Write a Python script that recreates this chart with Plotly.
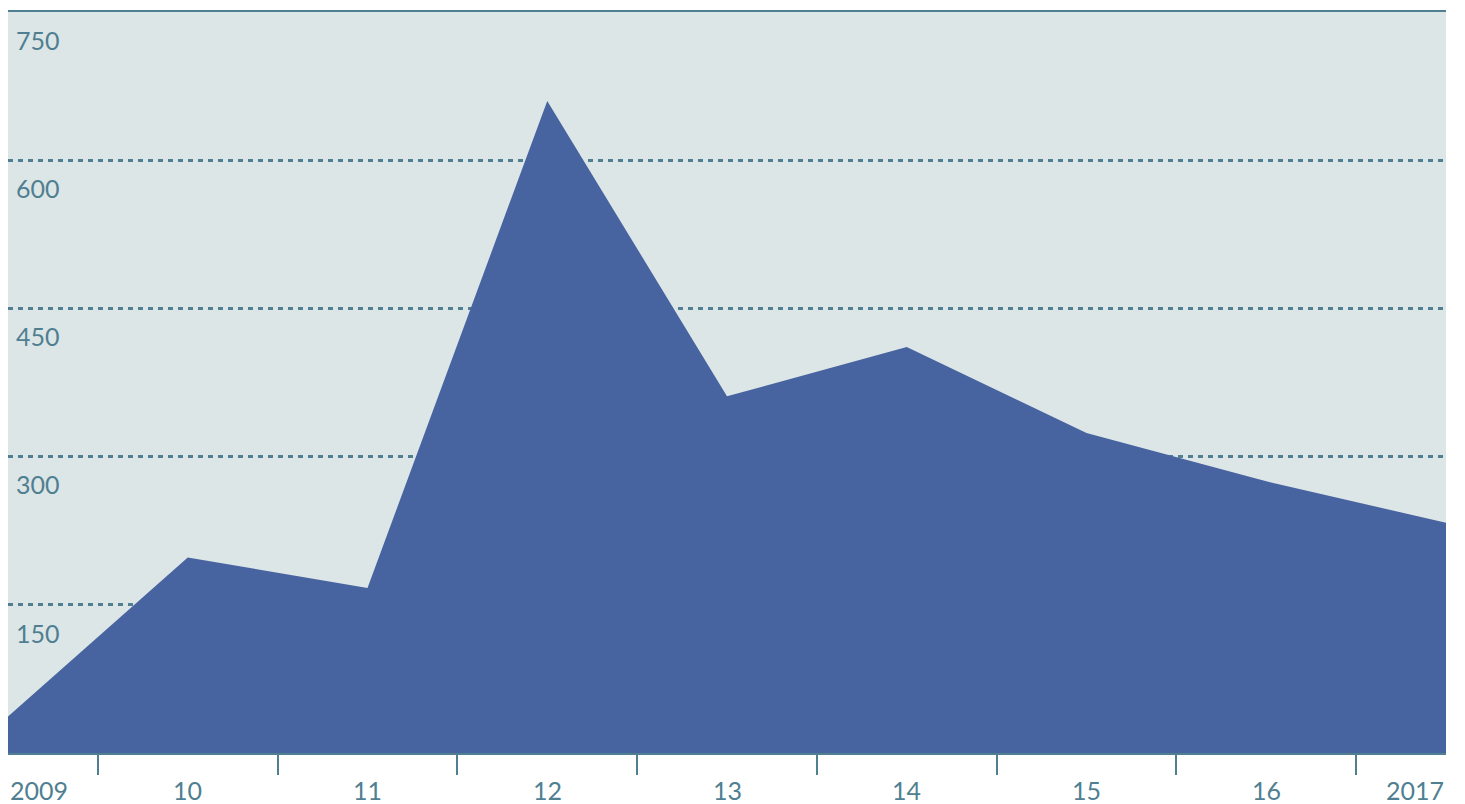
import plotly.graph_objects as go

years = [2009, 2010, 2011, 2012, 2013, 2014, 2015, 2016, 2017]
values = [37, 198, 167, 660, 361, 411, 324, 275, 233]
year_labels = ["2009", "10", "11", "12", "13", "14", "15", "16", "2017"]
y_ticks = [150, 300, 450, 600, 750]

AREA = "#4864a0"
BG = "#dce6e7"
INK = "#4f7f91"
FONT = "Lato"
FS = 25

fig = go.Figure()
fig.add_trace(go.Scatter(
    x=years, y=values, mode="lines", fill="tozeroy",
    fillcolor=AREA, line=dict(width=0, color=AREA),
    hoverinfo="skip", showlegend=False,
))

fig.update_layout(
    width=1457, height=796,
    margin=dict(l=0, r=19, t=4, b=51),
    paper_bgcolor="white", plot_bgcolor=BG,
    font=dict(family=FONT, size=FS, color=INK),
    xaxis=dict(
        range=[years[0], years[-1]],
        tickvals=[y + 0.5 for y in years[:-1]],
        showticklabels=False,
        ticks="outside", ticklen=20, tickwidth=2, tickcolor=INK,
        showgrid=False, zeroline=False,
        showline=True, linecolor=INK, linewidth=2, mirror=True,
    ),
    yaxis=dict(
        range=[0, 750],
        tickvals=y_ticks,
        ticktext=[str(v) for v in y_ticks],
        ticklabelposition="inside",
        ticklabelshift=29,
        ticklabelstandoff=5,
        ticks="",
        showgrid=True, gridcolor=INK, gridwidth=2.5, griddash="5px,5px",
        zeroline=False, showline=False,
        tickfont=dict(family=FONT, size=FS, color=INK),
    ),
)

for i, (yr, lab) in enumerate(zip(years, year_labels)):
    anchor = "left" if i == 0 else ("right" if i == len(years) - 1 else "center")
    fig.add_annotation(
        x=yr, y=0, xref="x", yref="paper",
        text=lab, showarrow=False,
        xanchor=anchor, yanchor="middle", yshift=-37,
        font=dict(family=FONT, size=FS, color=INK),
    )

fig.write_html("out.html")
